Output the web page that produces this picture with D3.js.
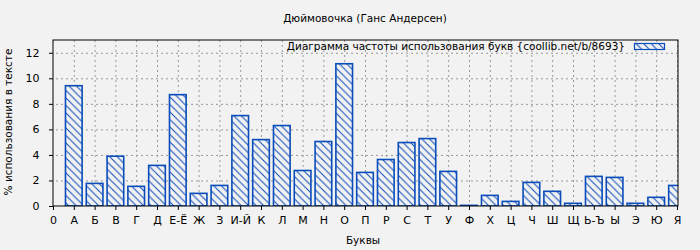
<!DOCTYPE html>
<html>
<head>
<meta charset="utf-8">
<script src="https://cdn.jsdelivr.net/npm/d3@7"></script>
<style>
  html, body { margin: 0; padding: 0; background: #f2f2f2; }
  svg { display: block; font-family: "DejaVu Sans", sans-serif; }
  .axis text { font-size: 11px; fill: #000; font-family: "DejaVu Sans", sans-serif; }
  .axis path, .axis line { stroke: #000; }
  .grid line { stroke: #999; stroke-dasharray: 2,3; }
  .grid path { display: none; }
</style>
</head>
<body>
<div id="chart"></div>
<script>
// letter frequency chart, "Дюймовочка"
const LETTERS = ["0", "А", "Б", "В", "Г", "Д", "Е-Ё", "Ж", "З", "И-Й", "К", "Л", "М", "Н", "О",
  "П", "Р", "С", "Т", "У", "Ф", "Х", "Ц", "Ч", "Ш", "Щ", "Ь-Ъ", "Ы", "Э", "Ю", "Я"];
// percent per letter, index 1..30 (index 0 has no bar)
const PERCENTS = [9.42, 1.77, 3.90, 1.54, 3.18, 8.72, 0.99, 1.61, 7.08, 5.20, 6.30, 2.78, 5.05, 11.14,
  2.63, 3.64, 4.97, 5.28, 2.71, 0.05, 0.83, 0.36, 1.85, 1.15, 0.21, 2.32, 2.24, 0.21, 0.68, 1.61];
const Y_TICKS = [0, 2, 4, 6, 8, 10, 12];

const TITLE = "Дюймовочка (Ганс Андерсен)";
const LEGEND = "Диаграмма частоты использования букв {coollib.net/b/8693}";
const BLUE = "#0a4cbb";

const width = 700, height = 250;
const margin = { top: 40, right: 22, bottom: 44, left: 53 };
const innerWidth = width - margin.left - margin.right;
const innerHeight = height - margin.top - margin.bottom;

const svg = d3.select("#chart").append("svg").attr("width", width).attr("height", height);

const defs = svg.append("defs");
const P = 7.5;
const pat = defs.append("pattern")
  .attr("id", "hatch")
  .attr("patternUnits", "userSpaceOnUse")
  .attr("width", P).attr("height", P);
pat.append("rect").attr("width", P).attr("height", P).attr("fill", "#f2f2f2");
pat.append("path")
  .attr("d", `M0,0L${P},${P}M-1,${P - 1}L1,${P + 1}M${P - 1},-1L${P + 1},1`)
  .attr("stroke", BLUE).attr("stroke-width", 1);

defs.append("clipPath").attr("id", "plot-clip")
  .append("rect").attr("width", innerWidth).attr("height", innerHeight);

const g = svg.append("g").attr("transform", `translate(${margin.left},${margin.top})`);

const x = d3.scaleLinear().domain([0, LETTERS.length - 1]).range([0, innerWidth - 1]);
const y = d3.scaleLinear().domain([0, 13]).range([innerHeight, 0]);
const step = x(1) - x(0);
const barW = step * 0.8;

// grid (dotted), no labels
g.append("g").attr("class", "grid")
  .call(d3.axisBottom(x).tickValues(d3.range(1, LETTERS.length)).tickSize(innerHeight).tickFormat(""))
  .call((s) => s.selectAll("text").remove());
g.append("g").attr("class", "grid")
  .attr("transform", `translate(${innerWidth},0)`)
  .call(d3.axisLeft(y).tickValues(Y_TICKS.slice(1)).tickSize(innerWidth).tickFormat(""))
  .call((s) => s.selectAll("text").remove());

// bars
const data = PERCENTS.map((v, i) => ({ letter: LETTERS[i + 1], idx: i + 1, value: v }));
g.append("g").attr("clip-path", "url(#plot-clip)")
  .selectAll("rect")
  .data(data)
  .join("rect")
  .attr("x", (d) => x(d.idx) - barW / 2)
  .attr("y", (d) => y(d.value))
  .attr("width", barW)
  .attr("height", (d) => y(0) - y(d.value))
  .attr("fill", "url(#hatch)")
  .attr("stroke", BLUE)
  .attr("stroke-width", 1.6);

// frame
g.append("rect")
  .attr("width", innerWidth).attr("height", innerHeight)
  .attr("fill", "none").attr("stroke", "#000").attr("stroke-width", 1);

// axes
g.append("g").attr("class", "axis")
  .attr("transform", `translate(0,${innerHeight})`)
  .call(d3.axisBottom(x).tickValues(d3.range(0, LETTERS.length)).tickFormat((i) => LETTERS[i]).tickSize(4).tickPadding(6))
  .call((s) => s.select(".domain").remove());
g.append("g").attr("class", "axis")
  .call(d3.axisLeft(y).tickValues(Y_TICKS).tickSize(4).tickPadding(9.5))
  .call((s) => s.select(".domain").remove());

// title + labels
svg.append("text")
  .attr("x", 365).attr("y", 22)
  .attr("text-anchor", "middle").attr("font-size", 10.5)
  .text(TITLE);

svg.append("text")
  .attr("x", 363).attr("y", 244)
  .attr("text-anchor", "middle").attr("font-size", 10.5)
  .text("Буквы");

svg.append("text")
  .attr("transform", `translate(12,${margin.top + innerHeight / 2 - 1}) rotate(-90)`)
  .attr("text-anchor", "middle").attr("font-size", 10.5)
  .text("% использования в тексте");

// legend
const legend = svg.append("g");
legend.append("text")
  .attr("x", 625).attr("y", 50)
  .attr("text-anchor", "end").attr("font-size", 10.5)
  .text(LEGEND);
legend.append("rect")
  .attr("x", 634.5).attr("y", 43.5).attr("width", 30).attr("height", 6)
  .attr("fill", "url(#hatch)").attr("stroke", BLUE).attr("stroke-width", 1.2);
</script>
</body>
</html>
